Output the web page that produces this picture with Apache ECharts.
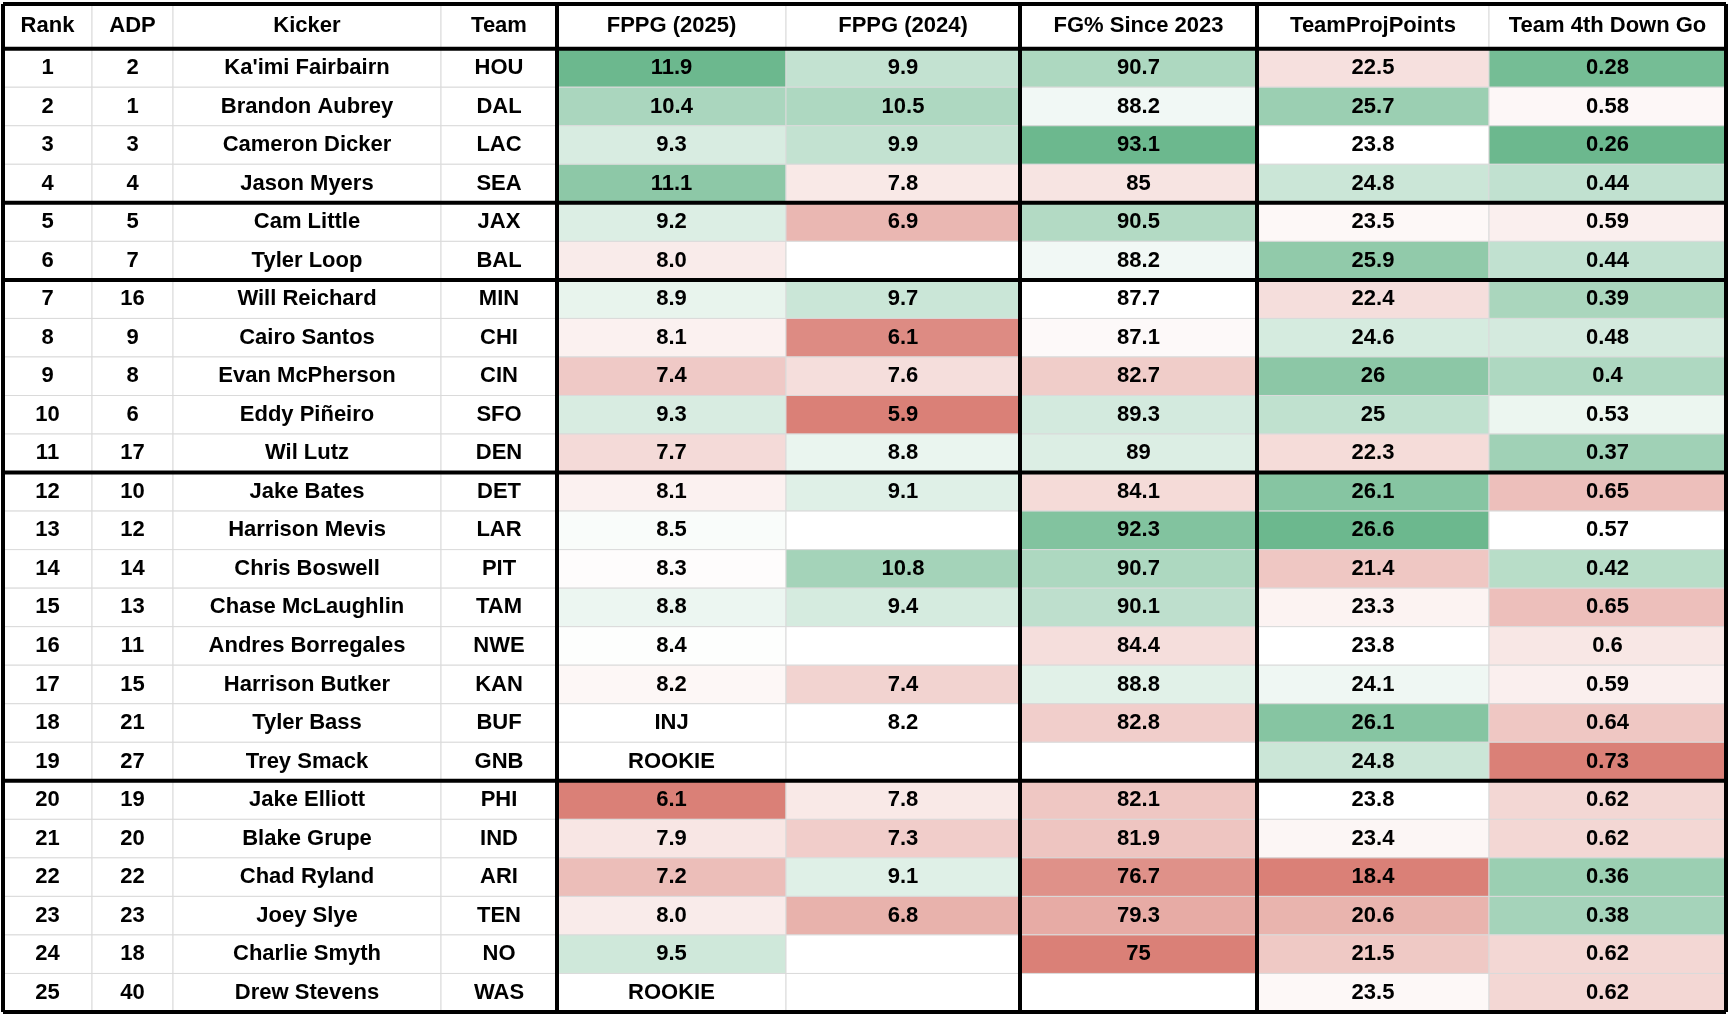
<!DOCTYPE html>
<html>
<head>
<meta charset="utf-8">
<script src="https://cdn.jsdelivr.net/npm/echarts@6/dist/echarts.min.js"></script>
<style>
  html, body { margin: 0; padding: 0; background: #fff; }
  #main { width: 1729px; height: 1018px; }
</style>
</head>
<body>
<div id="main"></div>
<script>
// 表头
var headers = ["Rank", "ADP", "Kicker", "Team", "FPPG (2025)", "FPPG (2024)", "FG% Since 2023", "TeamProjPoints", "Team 4th Down Go"];
// 数据
var ranks = ["1","2","3","4","5","6","7","8","9","10","11","12","13","14","15","16","17","18","19","20","21","22","23","24","25"];
var adp = ["2","1","3","4","5","7","16","9","8","6","17","10","12","14","13","11","15","21","27","19","20","22","23","18","40"];
var kickers = ["Ka'imi Fairbairn","Brandon Aubrey","Cameron Dicker","Jason Myers","Cam Little","Tyler Loop","Will Reichard","Cairo Santos","Evan McPherson","Eddy Piñeiro","Wil Lutz","Jake Bates","Harrison Mevis","Chris Boswell","Chase McLaughlin","Andres Borregales","Harrison Butker","Tyler Bass","Trey Smack","Jake Elliott","Blake Grupe","Chad Ryland","Joey Slye","Charlie Smyth","Drew Stevens"];
var teams = ["HOU","DAL","LAC","SEA","JAX","BAL","MIN","CHI","CIN","SFO","DEN","DET","LAR","PIT","TAM","NWE","KAN","BUF","GNB","PHI","IND","ARI","TEN","NO","WAS"];
var fppg2025 = ["11.9","10.4","9.3","11.1","9.2","8.0","8.9","8.1","7.4","9.3","7.7","8.1","8.5","8.3","8.8","8.4","8.2","INJ","ROOKIE","6.1","7.9","7.2","8.0","9.5","ROOKIE"];
var fppg2024 = ["9.9","10.5","9.9","7.8","6.9","","9.7","6.1","7.6","5.9","8.8","9.1","","10.8","9.4","","7.4","8.2","","7.8","7.3","9.1","6.8","",""];
var fgPct = ["90.7","88.2","93.1","85","90.5","88.2","87.7","87.1","82.7","89.3","89","84.1","92.3","90.7","90.1","84.4","88.8","82.8","","82.1","81.9","76.7","79.3","75",""];
var teamProj = ["22.5","25.7","23.8","24.8","23.5","25.9","22.4","24.6","26","25","22.3","26.1","26.6","21.4","23.3","23.8","24.1","26.1","24.8","23.8","23.4","18.4","20.6","21.5","23.5"];
var fourthDown = ["0.28","0.58","0.26","0.44","0.59","0.44","0.39","0.48","0.4","0.53","0.37","0.65","0.57","0.42","0.65","0.6","0.59","0.64","0.73","0.62","0.62","0.36","0.38","0.62","0.62"];

(function () {
  var myEcharts = echarts.init(document.getElementById('main'));
  var columns = [ranks, adp, kickers, teams, fppg2025, fppg2024, fgPct, teamProj, fourthDown];
  // 列宽（像素比例）
  var colEdges = [0, 89, 170, 438, 554, 783, 1017, 1254, 1486, 1723];
  var headH = 1.16;
  var nRows = ranks.length;
  // 色阶列：true 表示越大越绿，false 表示越小越绿
  var scaleCols = { 4: true, 5: true, 6: true, 7: true, 8: false };
  // 绿色最深程度（2024列偏浅）
  var greenCap = { 4: 1, 5: 0.62, 6: 1, 7: 1, 8: 1 };
  var RED = [218, 128, 119], WHITE = [255, 255, 255], GREEN = [108, 184, 142];

  function mix(a, b, t) {
    return 'rgb(' + a.map(function (v, i) { return Math.round(v + (b[i] - v) * t); }).join(',') + ')';
  }
  function colStats(arr) {
    var nums = arr.map(parseFloat).filter(function (v) { return !isNaN(v); }).sort(function (a, b) { return a - b; });
    var n = nums.length;
    var med = n % 2 ? nums[(n - 1) / 2] : (nums[n / 2 - 1] + nums[n / 2]) / 2;
    return { min: nums[0], max: nums[n - 1], mid: med };
  }
  function cellColor(c, r) {
    if (!(c in scaleCols)) return '#ffffff';
    var v = parseFloat(columns[c][r]);
    if (isNaN(v)) return '#ffffff';
    var st = stats[c], good = scaleCols[c], g = greenCap[c];
    if (v >= st.mid) {
      var t = (v - st.mid) / (st.max - st.mid || 1);
      return good ? mix(WHITE, GREEN, t * g) : mix(WHITE, RED, t);
    } else {
      var t2 = (st.mid - v) / (st.mid - st.min || 1);
      return good ? mix(WHITE, RED, t2) : mix(WHITE, GREEN, t2 * g);
    }
  }

  var stats = columns.map(function (arr, c) { return c in scaleCols ? colStats(arr) : null; });
  var cells = [];
  for (var c = 0; c < columns.length; c++) {
    cells.push([c, -1]);
    for (var r = 0; r < nRows; r++) cells.push([c, r]);
  }

  // 粗线
  var thickH = [0, headH, headH + 4, headH + 6, headH + 11, headH + 19, headH + nRows];
  var thickV = [0, 4, 6, 7, 9];
  var FONT = 'bold 22px "Liberation Sans Narrow", "Liberation Sans", Arial, sans-serif';

  var option = {
    animation: false,
    backgroundColor: '#fff',
    grid: { left: 3, right: 3, top: 4, bottom: 6 },
    xAxis: { type: 'value', min: 0, max: colEdges[colEdges.length - 1], show: false },
    yAxis: { type: 'value', min: 0, max: headH + nRows, inverse: true, show: false },
    series: [
      {
        type: 'custom',
        data: cells,
        renderItem: function (params, api) {
          var c = api.value(0), r = api.value(1);
          var y0 = r < 0 ? 0 : headH + r, y1 = r < 0 ? headH : headH + r + 1;
          var p0 = api.coord([colEdges[c], y0]);
          var p1 = api.coord([colEdges[c + 1], y1]);
          var txt = r < 0 ? headers[c] : columns[c][r];
          var fill = r < 0 ? '#ffffff' : cellColor(c, r);
          return {
            type: 'group',
            children: [
              { type: 'rect', shape: { x: p0[0], y: p0[1], width: p1[0] - p0[0], height: p1[1] - p0[1] },
                style: { fill: fill, stroke: '#dadada', lineWidth: 1 } },
              { type: 'text', x: (p0[0] + p1[0]) / 2, y: (p0[1] + p1[1]) / 2,
                style: { text: txt, fill: '#000', font: FONT, align: 'center', verticalAlign: 'middle' } }
            ]
          };
        }
      },
      {
        type: 'custom',
        data: thickH.map(function (y) { return [0, y]; }).concat(thickV.map(function (c) { return [c, 0]; })),
        renderItem: function (params, api) {
          var a, b;
          if (params.dataIndex < thickH.length) {
            var y = api.value(1);
            a = api.coord([0, y]); b = api.coord([colEdges[colEdges.length - 1], y]);
          } else {
            var x = colEdges[api.value(0)];
            a = api.coord([x, 0]); b = api.coord([x, headH + nRows]);
          }
          return { type: 'line', shape: { x1: a[0], y1: a[1], x2: b[0], y2: b[1] },
            style: { stroke: '#000', lineWidth: 4 } };
        }
      }
    ]
  };
  myEcharts.setOption(option);
})();
</script>
</body>
</html>
